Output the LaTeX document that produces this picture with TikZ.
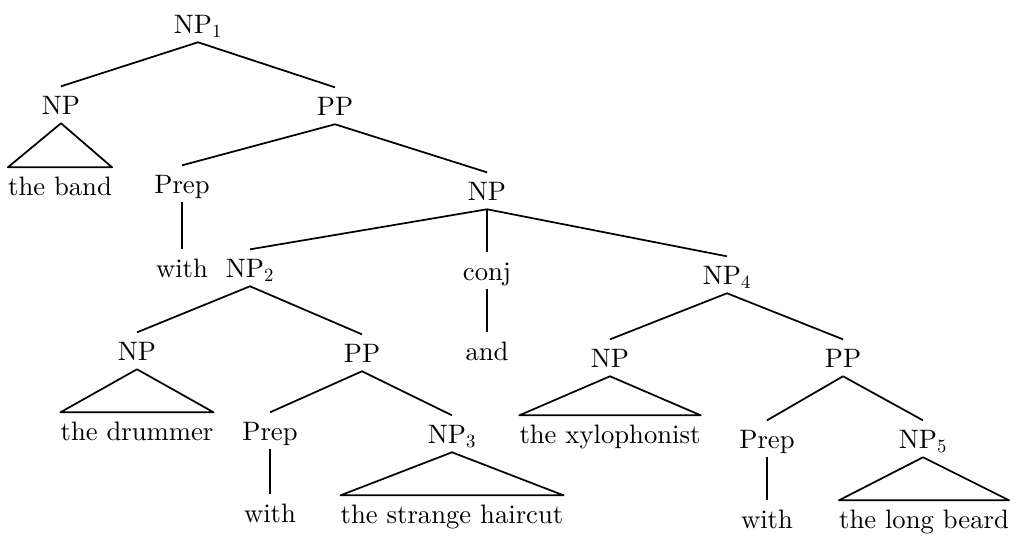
\documentclass[tikz,border=0pt]{standalone}
\usepackage{fontspec}
\setmainfont{lmroman10-regular}[Extension=.otf]
\begin{document}
\begin{tikzpicture}[x=0.75pt,y=-0.75pt,
  lbl/.style={inner xsep=0pt,inner ysep=6.75pt,text depth=0pt,text height=13.8pt,anchor=base,
              font=\fontsize{20}{24}\selectfont},
  edge/.style={line width=1.3pt,line join=round}]
\useasboundingbox (0,0) rectangle (1016,537);
% categories and words (positioned by baseline centre)
\node[lbl] (np1)   at (198,33)  {NP\textsubscript{1}};
\node[lbl] (npa)   at (61,114)  {NP};
\node[lbl] (ppa)   at (335,115) {PP};
\node[lbl] (band)  at (60,195)  {the band};
\node[lbl] (prepa) at (182,193) {Prep};
\node[lbl] (npb)   at (487,200) {NP};
\node[lbl] (witha) at (182,277) {with};
\node[lbl] (np2)   at (250,277) {NP\textsubscript{2}};
\node[lbl] (conj)  at (487,280) {conj};
\node[lbl] (np4)   at (727,284) {NP\textsubscript{4}};
\node[lbl] (npc)   at (137,360) {NP};
\node[lbl] (ppb)   at (362,362) {PP};
\node[lbl] (and)   at (487,360) {and};
\node[lbl] (npd)   at (610,367) {NP};
\node[lbl] (ppc)   at (843,367) {PP};
\node[lbl] (drum)  at (137,440) {the drummer};
\node[lbl] (prepb) at (270,440) {Prep};
\node[lbl] (np3)   at (452,443) {NP\textsubscript{3}};
\node[lbl] (xylo)  at (610,443) {the xylophonist};
\node[lbl] (prepc) at (767,448) {Prep};
\node[lbl] (np5)   at (923,448) {NP\textsubscript{5}};
\node[lbl] (withb) at (270,522) {with};
\node[lbl] (hair)  at (452,523) {the strange haircut};
\node[lbl] (withc) at (767,528) {with};
\node[lbl] (beard) at (924,528) {the long beard};
% branches
\draw[edge] (npa.north) -- (np1.south) -- (ppa.north);
\draw[edge] (prepa.north) -- (ppa.south) -- (npb.north);
\draw[edge] (prepa.south) -- (witha.north);
\draw[edge] (np2.north) -- (npb.south) -- (np4.north);
\draw[edge] (npb.south) -- (conj.north);
\draw[edge] (conj.south) -- (and.north);
\draw[edge] (npc.north) -- (np2.south) -- (ppb.north);
\draw[edge] (prepb.north) -- (ppb.south) -- (np3.north);
\draw[edge] (prepb.south) -- (withb.north);
\draw[edge] (npd.north) -- (np4.south) -- (ppc.north);
\draw[edge] (prepc.north) -- (ppc.south) -- (np5.north);
\draw[edge] (prepc.south) -- (withc.north);
% triangles over unanalysed phrases
\draw[edge] (npa.south) -- (band.north west) -- (band.north east) -- cycle;
\draw[edge] (npc.south) -- (drum.north west) -- (drum.north east) -- cycle;
\draw[edge] (np3.south) -- (hair.north west) -- (hair.north east) -- cycle;
\draw[edge] (npd.south) -- (xylo.north west) -- (xylo.north east) -- cycle;
\draw[edge] (np5.south) -- (beard.north west) -- (beard.north east) -- cycle;
\end{tikzpicture}
\end{document}
